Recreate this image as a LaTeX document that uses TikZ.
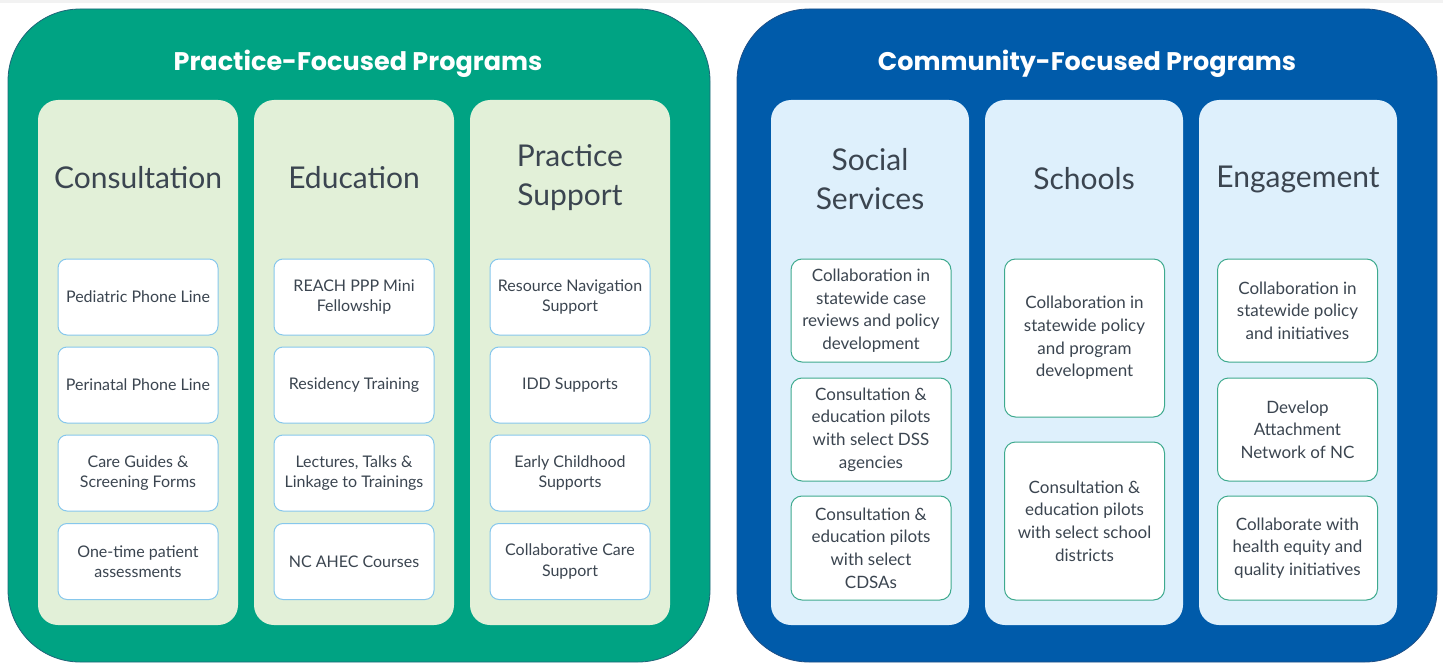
\documentclass[tikz,border=0pt]{standalone}
\usepackage{fontspec}
\setmainfont{Lato}
\newfontfamily\titlefont{Poppins}
\definecolor{pgreen}{HTML}{00A383}
\definecolor{pgreenedge}{HTML}{1F6579}
\definecolor{cblue}{HTML}{005BAA}
\definecolor{cblueedge}{HTML}{1D4E86}
\definecolor{lgreen}{HTML}{E2F0D8}
\definecolor{lblue}{HTML}{DEF0FC}
\definecolor{itemblue}{HTML}{86C7EC}
\definecolor{itemteal}{HTML}{3EAA8E}
\definecolor{ink}{HTML}{3B4550}
\begin{document}
\begin{tikzpicture}[x=1pt,y=-1pt,
  panel/.style={rounded corners=72pt, line width=0.8pt, inner sep=0pt},
  paneltitle/.style={text=white, font=\titlefont\bfseries\fontsize{25.5}{30}\selectfont},
  column/.style={rounded corners=20pt, inner sep=0pt, minimum width=200pt, minimum height=525pt},
  heading/.style={text=ink, align=center, font=\fontsize{30}{39}\selectfont},
  pitem/.style={draw=itemblue, fill=white, line width=1pt, rounded corners=9pt, inner sep=0pt,
    minimum width=160pt, minimum height=76pt, text=ink, align=center,
    font=\fontsize{16}{20.5}\selectfont},
  citem/.style={draw=itemteal, fill=white, line width=1pt, rounded corners=11pt, inner sep=0pt,
    minimum width=160pt, text=ink, align=center,
    font=\fontsize{17}{22.6}\selectfont}]
\useasboundingbox (0,0) rectangle (1443,663);
\fill[black!5] (0,0) rectangle (1443,3);

% outer panels
\node[panel, draw=pgreenedge, fill=pgreen, minimum width=702pt, minimum height=653pt] (left) at (359,335.5) {};
\node[panel, draw=cblueedge, fill=cblue, minimum width=700pt, minimum height=653pt] (right) at (1087,335.5) {};
\node[paneltitle] (lefttitle) at (358,64) {Practice-Focused Programs};
\node[paneltitle] (righttitle) at (1087,64) {Community-Focused Programs};

% practice-focused columns
\node[column, fill=lgreen] (consult) at (138,362.5) {};
\node[column, fill=lgreen] (educ) at (354,362.5) {};
\node[column, fill=lgreen] (support) at (570,362.5) {};
\node[heading] (consultH) at (138,178) {Consultation};
\node[heading] (educH) at (354,178) {Education};
\node[heading] (supportH) at (570,178) {Practice\\Support};

\node[pitem] (c1) at (138,297) {Pediatric Phone Line};
\node[pitem] (c2) at (138,385) {Perinatal Phone Line};
\node[pitem] (c3) at (138,473) {Care Guides \&\\Screening Forms};
\node[pitem] (c4) at (138,561.5) {One-time patient\\assessments};

\node[pitem] (e1) at (354,297) {REACH PPP Mini\\Fellowship};
\node[pitem] (e2) at (354,385) {Residency Training};
\node[pitem] (e3) at (354,473) {Lectures, Talks \&\\Linkage to Trainings};
\node[pitem] (e4) at (354,561.5) {NC AHEC Courses};

\node[pitem] (s1) at (570,297) {Resource Navigation\\Support};
\node[pitem] (s2) at (570,385) {IDD Supports};
\node[pitem] (s3) at (570,473) {Early Childhood\\Supports};
\node[pitem] (s4) at (570,561.5) {Collaborative Care\\Support};

% community-focused columns
\node[column, fill=lblue, minimum width=198pt] (social) at (870,362.5) {};
\node[column, fill=lblue, minimum width=198pt] (schools) at (1084,362.5) {};
\node[column, fill=lblue, minimum width=198pt] (engage) at (1298,362.5) {};
\node[heading] (socialH) at (870,179) {Social\\Services};
\node[heading] (schoolsH) at (1084,179) {Schools};
\node[heading] (engageH) at (1298,179) {Engagement};

\node[citem, minimum height=103pt] (ss1) at (871,310.5) {Collaboration in\\statewide case\\reviews and policy\\development};
\node[citem, minimum height=103pt] (ss2) at (871,429.5) {Consultation \&\\education pilots\\with select DSS\\agencies};
\node[citem, minimum height=104pt] (ss3) at (871,548) {Consultation \&\\education pilots\\with select\\CDSAs};

\node[citem, minimum height=158pt] (sc1) at (1084.5,338) {Collaboration in\\statewide policy\\and program\\development};
\node[citem, minimum height=158pt] (sc2) at (1084.5,521) {Consultation \&\\education pilots\\with select school\\districts};

\node[citem, minimum height=103pt] (en1) at (1297.5,310.5) {Collaboration in\\statewide policy\\and initiatives};
\node[citem, minimum height=103pt] (en2) at (1297.5,429.5) {Develop\\Attachment\\Network of NC};
\node[citem, minimum height=104pt] (en3) at (1297.5,548) {Collaborate with\\health equity and\\quality initiatives};
\end{tikzpicture}
\end{document}
